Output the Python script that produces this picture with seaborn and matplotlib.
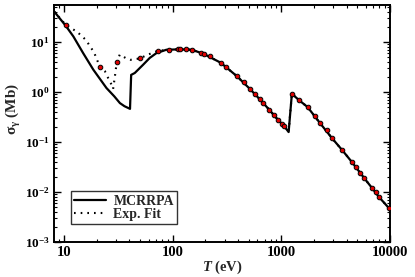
import matplotlib
matplotlib.use("Agg")
import matplotlib.pyplot as plt
import seaborn as sns
import numpy as np
import pandas as pd
from matplotlib.ticker import NullFormatter, LogLocator

# ---------------- data ----------------
# red markers (experimental fit knots)
pts_T = [10.4, 21.5, 30.6, 49.6, 72.8, 92.3, 111, 116, 133, 151, 184, 193, 220,
         277, 311, 392, 450, 514, 575, 635, 681, 773, 853, 929, 1014, 1059,
         1250, 1463, 1742, 2022, 2265, 2605, 2937, 3648, 4455, 4843, 5308,
         5770, 6792, 7395, 7925, 9700]
pts_sigma = [21.9, 3.10, 3.98, 4.68, 6.64, 7.02, 7.11, 7.11, 7.08, 6.98, 6.08,
             5.78, 5.13, 3.85, 3.13, 2.05, 1.59, 1.15, 0.904, 0.711, 0.611,
             0.443, 0.348, 0.279, 0.232, 0.209, 0.92, 0.679, 0.501, 0.325,
             0.240, 0.171, 0.118, 0.0679, 0.0398, 0.0310, 0.0243, 0.0191,
             0.0122, 0.0098, 0.0079, 0.0047]

# MCRRPA (solid)
mc_T = [8.1, 10.4, 12.2, 15.0, 18.6, 24.6, 29.0, 32.7, 36.0, 38.9, 40.5, 41.5,
        44.8, 53.4, 61.5, 70.9, 87.5, 111, 133, 151, 193, 277, 392, 514, 635,
        773, 929, 1059, 1167, 1250, 1463, 1742, 2265, 2937, 3648, 4455, 5770,
        6792, 7925, 10000]
mc_sigma = [41, 21, 12.9, 6.0, 2.8, 1.2, 0.82, 0.60, 0.52, 0.48, 0.46, 2.2,
            2.4, 3.5, 4.8, 6.0, 7.0, 7.11, 7.08, 6.98, 5.78, 3.85, 2.05, 1.15,
            0.711, 0.443, 0.279, 0.209, 0.158, 0.92, 0.679, 0.501, 0.240,
            0.118, 0.0679, 0.0398, 0.0191, 0.0122, 0.0079, 0.0045]

# Exp. Fit (dotted)
fit_T = [8.1, 10.4, 13.2, 15.9, 18.9, 21.5, 23.8, 25.5, 27.4, 28.3, 29.4,
         30.6, 32.6, 36.8, 40.9, 49.6, 59.3, 72.8, 92.3, 111, 133, 151, 193,
         277, 392, 514, 635, 773, 929, 1059, 1167, 1250, 1463, 1742, 2265,
         2937, 3648, 4455, 5770, 6792, 7925, 10000]
fit_sigma = [41, 21.9, 16.0, 11.0, 6.2, 3.1, 2.6, 1.9, 1.4, 1.15, 2.05, 3.98,
             5.6, 4.8, 4.4, 4.68, 5.6, 6.64, 7.02, 7.11, 7.08, 6.98, 5.78,
             3.85, 2.05, 1.15, 0.711, 0.443, 0.279, 0.209, 0.158, 0.92, 0.679,
             0.501, 0.240, 0.118, 0.0679, 0.0398, 0.0191, 0.0122, 0.0079,
             0.0045]

xtick_vals = [10, 100, 1000, 10000]
xtick_labels = ["10", "100", "1000", "10000"]
ytick_vals = [1e-3, 1e-2, 1e-1, 1e0, 1e1]
ytick_labels = [r"$\mathbf{10^{-3}}$", r"$\mathbf{10^{-2}}$", r"$\mathbf{10^{-1}}$",
                r"$\mathbf{10^{0}}$", r"$\mathbf{10^{1}}$"]

# ---------------- style ----------------
sns.set_theme(style="white")
plt.rcParams["font.family"] = ["Liberation Serif", "DejaVu Serif"]
plt.rcParams["font.weight"] = "bold"
plt.rcParams["mathtext.fontset"] = "custom"
plt.rcParams["mathtext.rm"] = "Liberation Serif:weight=bold"
plt.rcParams["mathtext.bf"] = "Liberation Serif:weight=bold"
plt.rcParams["mathtext.it"] = "Liberation Serif:style=italic:weight=bold"

fig = plt.figure(figsize=(4.15, 2.77), dpi=100)
ax = fig.add_axes([0.1301, 0.1264, 0.8097, 0.8556])

df_mc = pd.DataFrame({"T": mc_T, "sigma": mc_sigma})
df_fit = pd.DataFrame({"T": fit_T, "sigma": fit_sigma})
df_pts = pd.DataFrame({"T": pts_T, "sigma": pts_sigma})

sns.lineplot(data=df_mc, x="T", y="sigma", ax=ax, color="black", lw=1.6,
             sort=False, estimator=None, label="MCRRPA")
sns.lineplot(data=df_fit, x="T", y="sigma", ax=ax, color="black", lw=1.5,
             sort=False, estimator=None, label="Exp. Fit",
             linestyle=(0, (0.8, 2.4)))
sns.scatterplot(data=df_pts, x="T", y="sigma", ax=ax, color="#e00000",
                edgecolor="black", linewidth=0.7, s=11, zorder=5, legend=False)

ax.set_xscale("log")
ax.set_yscale("log")

ax.set_xticks(xtick_vals, xtick_labels, fontsize=10.5, fontweight="bold")
ax.set_yticks(ytick_vals, ytick_labels, fontsize=9.5, fontweight="bold")
ax.xaxis.set_minor_locator(LogLocator(base=10, subs=np.arange(2, 10), numticks=20))
ax.yaxis.set_minor_locator(LogLocator(base=10, subs=np.arange(2, 10), numticks=20))
ax.xaxis.set_minor_formatter(NullFormatter())
ax.yaxis.set_minor_formatter(NullFormatter())
ax.set_xlim(8.09, 10000)
ax.set_ylim(1e-3, 55)

ax.tick_params(which="both", direction="in", top=True, right=True,
               bottom=True, left=True, colors="black")
ax.tick_params(which="major", length=5, width=1.0, pad=3)
ax.tick_params(which="minor", length=2.5, width=0.8)

for sp in ax.spines.values():
    sp.set_color("black")
    sp.set_linewidth(1.4)

ax.set_xlabel(r"$\mathit{T}$ (eV)", fontsize=10.5, fontweight="bold", labelpad=0)
ax.set_ylabel(r"σ$_{\mathbf{γ}}$ (Mb)", fontsize=11, fontweight="bold")
ax.yaxis.set_label_coords(-0.092, 0.56)

leg = ax.legend(loc="lower left", bbox_to_anchor=(0.0506, 0.076), borderaxespad=0,
                frameon=True, fancybox=False, edgecolor="black", fontsize=10,
                handlelength=2.3, handletextpad=0.5, borderpad=0.25,
                labelspacing=0.0)
leg.get_frame().set_linewidth(1.0)
for t in leg.get_texts():
    t.set_fontweight("bold")

fig.savefig("out.png", dpi=100)
